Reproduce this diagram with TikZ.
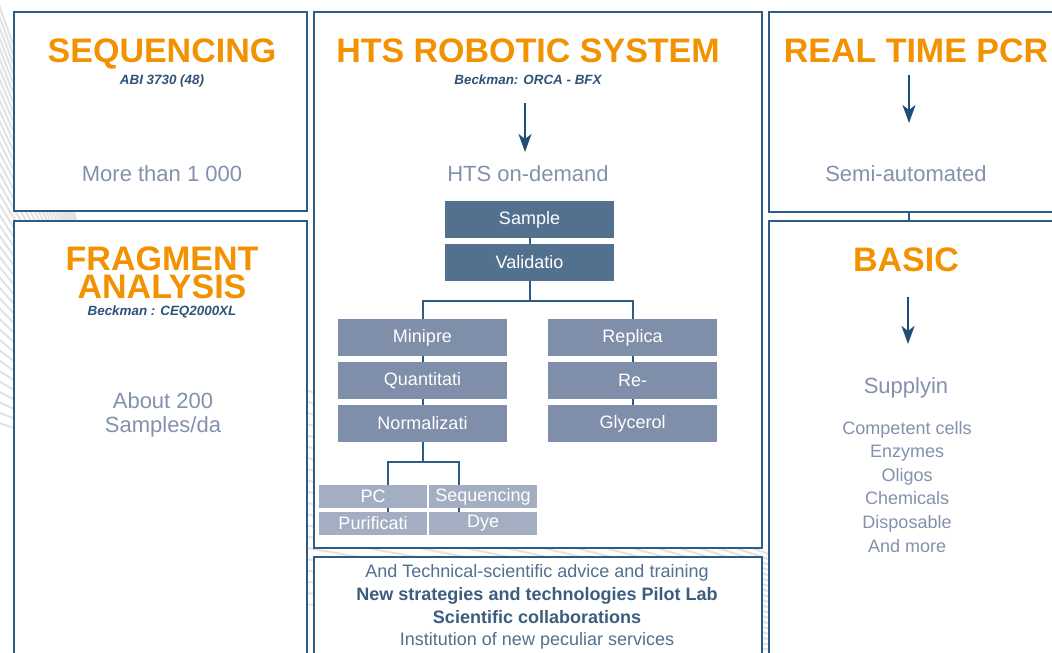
\documentclass[tikz,border=0pt]{standalone}
\usepackage{fontspec}
\setmainfont{Liberation Sans}
\usetikzlibrary{arrows.meta}

\definecolor{orangeT}{HTML}{F39200}
\definecolor{frameB}{HTML}{2F5C85}
\definecolor{greyT}{HTML}{8491AD}
\definecolor{darkT}{HTML}{2F5378}
\definecolor{fillA}{HTML}{52718F}
\definecolor{fillB}{HTML}{7F8EA9}
\definecolor{fillC}{HTML}{A3AEC3}
\definecolor{arrowB}{HTML}{1F4E79}
\definecolor{lineT}{HTML}{52708F}
\definecolor{boldT}{HTML}{3D5D7E}
\definecolor{stripeG}{HTML}{E2E2E2}

\begin{document}
\begin{tikzpicture}[x=0.5pt,y=-0.5pt,
  panel/.style={draw=frameB, line width=1.1pt, fill=white, inner sep=0pt},
  title/.style={text=orangeT, font=\fontsize{17}{14}\selectfont\bfseries, anchor=base, inner sep=0pt},
  model/.style={text=darkT, font=\fontsize{6.7}{8}\selectfont\bfseries\itshape, anchor=base, inner sep=0pt},
  lead/.style={text=greyT, font=\fontsize{11}{12}\selectfont, anchor=base, inner sep=0pt},
  item/.style={text=greyT, font=\fontsize{9}{10}\selectfont, anchor=base, inner sep=0pt},
  note/.style={text=lineT, font=\fontsize{9}{10}\selectfont, anchor=base, inner sep=0pt},
  notebold/.style={text=boldT, font=\fontsize{9}{10}\selectfont\bfseries, anchor=base, inner sep=0pt},
  stepA/.style={fill=fillA, text=white, font=\fontsize{9}{10}\selectfont, minimum width=84.5pt, minimum height=18.5pt, inner sep=0pt},
  stepB/.style={stepA, fill=fillB},
  stepC/.style={stepA, fill=fillC, minimum width=54pt, minimum height=11.5pt},
  link/.style={draw=frameB, line width=1pt},
  flow/.style={draw=arrowB, line width=1pt, -{Stealth[length=9pt,width=6.5pt,inset=2.5pt]}},
  stripe/.style={draw=stripeG, line width=1pt}
]
\useasboundingbox (0,0) rectangle (1052,652);
\clip (0,0) rectangle (1052,652);

% faint background rays
\foreach \t in {-20,-9,...,430} \draw[stripe] (170,480) -- (-10,\t);
\foreach \t in {370,382,...,600} \draw[stripe] (1180,700) -- (250,\t);

% panels
\node[panel, minimum width=146.5pt, minimum height=99.5pt] (seqP) at (160.5,111.5) {};
\node[panel, minimum width=146.5pt, minimum height=239.5pt] (fraP) at (160.5,460.5) {};
\node[panel, minimum width=224pt, minimum height=268pt] (htsP) at (538,280) {};
\node[panel, minimum width=224pt, minimum height=71.5pt] (botP) at (538,628.5) {};
\node[panel, minimum width=150.5pt, minimum height=100pt] (pcrP) at (919.5,112) {};
\node[panel, minimum width=150.5pt, minimum height=239.5pt] (basP) at (919.5,460.5) {};
\draw[link] ([xshift=-5.25pt]pcrP.south) -- ([xshift=-5.25pt]basP.north);

% sequencing
\node[title] (seqT) at (162,63) {SEQUENCING};
\node[model] (seqM) at (162,85) {ABI 3730 (48)};
\node[lead] (seqL) at (162,182) {More than 1 000};

% fragment analysis
\node[title, anchor=north, align=center] (fraT) at (162,246) {FRAGMENT\\ANALYSIS};
\node[model] (fraM) at (162,315) {Beckman : CEQ2000XL};
\node[lead] (fraL1) at (163,408) {About 200};
\node[lead] (fraL2) at (163,432) {Samples/da};

% HTS robotic system
\node[title] (htsT) at (528,63) {HTS ROBOTIC SYSTEM};
\node[model] (htsM) at (528,85) {Beckman: ORCA - BFX};
\coordinate (htsA1) at (525,103);
\coordinate (htsA2) at (525,152);
\draw[flow] (htsA1) -- (htsA2);
\node[lead] (htsL) at (528,182) {HTS on-demand};

\node[stepA] (samp) at (529.5,219.5) {Sample};
\node[stepA] (vali) at (529.5,262.5) {Validatio};
\node[stepB] (mini) at (422.5,337.5) {Minipre};
\node[stepB] (quan) at (422.5,380.5) {Quantitati};
\node[stepB] (norm) at (422.5,423.5) {Normalizati};
\node[stepB] (repl) at (632.5,337.5) {Replica};
\node[stepB] (rear) at (632.5,380.5) {Re-};
\node[stepB] (glyc) at (632.5,423.5) {Glycerol};
\node[stepC] (pcr) at (373,496.5) {PC};
\node[stepC] (sqn) at (483,496.5) {Sequencing};
\node[stepC] (puri) at (373,523.5) {Purificati};
\node[stepC] (dye) at (483,523.5) {Dye};

\coordinate (bus) at (529.5,301);
\coordinate (busB) at (422.5,462);
\draw[link] (samp.south) -- (vali.north);
\draw[link] (vali.south) -- (bus);
\draw[link] (mini.north) |- (bus) -| (repl.north);
\draw[link] (mini.south) -- (quan.north);
\draw[link] (quan.south) -- (norm.north);
\draw[link] (repl.south) -- (rear.north);
\draw[link] (rear.south) -- (glyc.north);
\draw[link] (norm.south) -- (busB);
\draw[link] ([xshift=7.5pt]pcr.north) |- (busB) -| ([xshift=-12pt]sqn.north);
\draw[link] ([xshift=7.5pt]pcr.south) -- ([xshift=7.5pt]puri.north);
\draw[link] ([xshift=-12pt]sqn.south) -- ([xshift=-12pt]dye.north);

% real time PCR
\node[title] (pcrT) at (916,63) {REAL TIME PCR};
\coordinate (pcrA1) at (909,75);
\coordinate (pcrA2) at (909,123);
\draw[flow] (pcrA1) -- (pcrA2);
\node[lead] (pcrL) at (906,182) {Semi-automated};

% basic
\node[title] (basT) at (906,271) {BASIC};
\coordinate (basA1) at (908,297);
\coordinate (basA2) at (908,344);
\draw[flow] (basA1) -- (basA2);
\node[lead] (basL) at (906,393) {Supplyin};
\foreach \txt [count=\i from 0] in {Competent cells,Enzymes,Oligos,Chemicals,Disposable,And more}
  \node[item] (basI\i) at (907,434+23.6*\i) {\txt};

% bottom panel
\node[note] (botL1) at (537,577) {And Technical-scientific advice and training};
\node[notebold] (botL2) at (537,600) {New strategies and technologies Pilot Lab};
\node[notebold] (botL3) at (537,623) {Scientific collaborations};
\node[note] (botL4) at (537,645) {Institution of new peculiar services};
\end{tikzpicture}
\end{document}
